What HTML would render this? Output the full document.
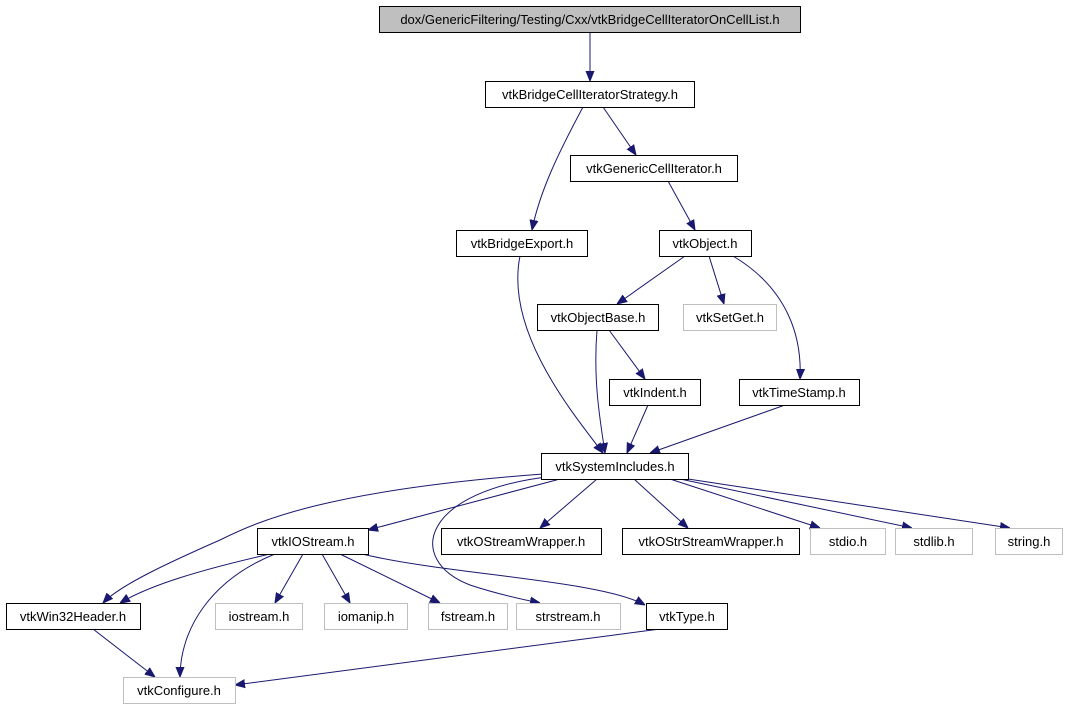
<!DOCTYPE html>
<html><head><meta charset="utf-8"><style>
html,body{margin:0;padding:0;background:#fff;}
svg{display:block;}
text{font-family:"Liberation Sans",sans-serif;font-size:13px;fill:#000;}
</style></head><body>
<svg width="1068" height="709" viewBox="0 0 1068 709" xmlns="http://www.w3.org/2000/svg">
<defs><marker id="a" viewBox="0 0 10 10" refX="10" refY="5" markerWidth="10" markerHeight="10" markerUnits="userSpaceOnUse" orient="auto"><path d="M0,1 L10,5 L0,9 z" fill="#191970" stroke="#191970"/></marker></defs>
<g fill="none" stroke="#191970" stroke-width="1" marker-end="url(#a)">
<path d="M590,32 L590,81"/>
<path d="M603,107 L636,155"/>
<path d="M583,107 C560,150 540,190 532,230"/>
<path d="M668,181 L695,230"/>
<path d="M520,256 C505,330 570,410 603,453"/>
<path d="M685,256 L617,304"/>
<path d="M709,256 L724,304"/>
<path d="M733,256 C790,290 802,340 800,379"/>
<path d="M609,330 L645,379"/>
<path d="M597,330 C593,380 600,420 605,453"/>
<path d="M648,405 L627,453"/>
<path d="M785,405 L650,453"/>
<path d="M560,479 L368,530"/>
<path d="M597,479 L540,528"/>
<path d="M634,479 L688,528"/>
<path d="M670,479 L820,528"/>
<path d="M680,479 L912,528"/>
<path d="M688,479 L1010,528"/>
<path d="M543,474 C330,490 260,520 220,540 C170,562 120,585 103,603"/>
<path d="M555,476 C420,490 405,560 470,585 C500,595 525,600 540,603"/>
<path d="M270,554 C200,570 150,585 120,603"/>
<path d="M275,554 C210,580 180,630 180,677"/>
<path d="M303,554 L275,603"/>
<path d="M322,554 L350,603"/>
<path d="M340,554 L440,603"/>
<path d="M362,554 C450,575 600,580 645,605"/>
<path d="M93,629 L155,677"/>
<path d="M660,629 L235,685"/>
</g>
<g stroke-width="1">
<rect x="379.5" y="6.5" width="421" height="26" fill="#bfbfbf" stroke="#000"/>
<rect x="485.5" y="81.5" width="209" height="26" fill="#fff" stroke="#000"/>
<rect x="570.5" y="155.5" width="167" height="26" fill="#fff" stroke="#000"/>
<rect x="456.5" y="230.5" width="131" height="26" fill="#fff" stroke="#000"/>
<rect x="659.5" y="230.5" width="92" height="26" fill="#fff" stroke="#000"/>
<rect x="537.5" y="304.5" width="121" height="26" fill="#fff" stroke="#000"/>
<rect x="683.5" y="304.5" width="93" height="26" fill="#fff" stroke="#bfbfbf"/>
<rect x="609.5" y="379.5" width="91" height="26" fill="#fff" stroke="#000"/>
<rect x="739.5" y="379.5" width="120" height="26" fill="#fff" stroke="#000"/>
<rect x="541.5" y="453.5" width="147" height="26" fill="#fff" stroke="#000"/>
<rect x="257.5" y="528.5" width="111" height="26" fill="#fff" stroke="#000"/>
<rect x="441.5" y="528.5" width="160" height="26" fill="#fff" stroke="#000"/>
<rect x="622.5" y="528.5" width="177" height="26" fill="#fff" stroke="#000"/>
<rect x="810.5" y="528.5" width="75" height="26" fill="#fff" stroke="#bfbfbf"/>
<rect x="895.5" y="528.5" width="77" height="26" fill="#fff" stroke="#bfbfbf"/>
<rect x="995.5" y="528.5" width="67" height="26" fill="#fff" stroke="#bfbfbf"/>
<rect x="6.5" y="603.5" width="134" height="26" fill="#fff" stroke="#000"/>
<rect x="215.5" y="603.5" width="87" height="26" fill="#fff" stroke="#bfbfbf"/>
<rect x="324.5" y="603.5" width="83" height="26" fill="#fff" stroke="#bfbfbf"/>
<rect x="428.5" y="603.5" width="79" height="26" fill="#fff" stroke="#bfbfbf"/>
<rect x="516.5" y="603.5" width="104" height="26" fill="#fff" stroke="#bfbfbf"/>
<rect x="646.5" y="603.5" width="81" height="26" fill="#fff" stroke="#000"/>
<rect x="123.5" y="677.5" width="112" height="26" fill="#fff" stroke="#bfbfbf"/>
</g>
<g text-anchor="middle">
<text x="590" y="24">dox/GenericFiltering/Testing/Cxx/vtkBridgeCellIteratorOnCellList.h</text>
<text x="590" y="99">vtkBridgeCellIteratorStrategy.h</text>
<text x="654" y="173">vtkGenericCellIterator.h</text>
<text x="522" y="248">vtkBridgeExport.h</text>
<text x="705" y="248">vtkObject.h</text>
<text x="598" y="322">vtkObjectBase.h</text>
<text x="730" y="322">vtkSetGet.h</text>
<text x="655" y="397">vtkIndent.h</text>
<text x="799" y="397">vtkTimeStamp.h</text>
<text x="615" y="471">vtkSystemIncludes.h</text>
<text x="313" y="546">vtkIOStream.h</text>
<text x="521" y="546">vtkOStreamWrapper.h</text>
<text x="711" y="546">vtkOStrStreamWrapper.h</text>
<text x="848" y="546">stdio.h</text>
<text x="934" y="546">stdlib.h</text>
<text x="1029" y="546">string.h</text>
<text x="73" y="621">vtkWin32Header.h</text>
<text x="259" y="621">iostream.h</text>
<text x="366" y="621">iomanip.h</text>
<text x="468" y="621">fstream.h</text>
<text x="568" y="621">strstream.h</text>
<text x="687" y="621">vtkType.h</text>
<text x="179" y="695">vtkConfigure.h</text>
</g>
</svg>
</body></html>
